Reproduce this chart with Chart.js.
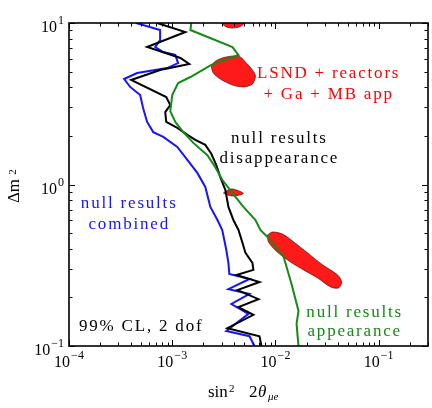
<!DOCTYPE html>
<html>
<head>
<meta charset="utf-8">
<script src="https://cdn.jsdelivr.net/npm/chart.js@4.4.1/dist/chart.umd.min.js"></script>
<style>
  html, body { margin: 0; padding: 0; background: #fff; }
</style>
</head>
<body>
<canvas id="chart" width="432" height="408"></canvas>
<script>
// --- contours: [sin^2 2theta, dm^2] ---
const nullCombined = [
    [4.47e-4, 10], [7.63e-4, 9.05], [7.63e-4, 7.85], [6.84e-4, 7.10], [8.18e-4, 6.61],
    [1.07e-3, 6.34], [1.14e-3, 5.65], [8.93e-4, 5.26], [4.57e-4, 4.90], [3.42e-4, 4.50],
    [3.91e-4, 4.02], [4.89e-4, 3.58], [5.22e-4, 2.98], [5.71e-4, 2.44], [6.55e-4, 2.11],
    [8.18e-4, 1.97], [1.12e-3, 1.71], [1.40e-3, 1.42], [1.75e-3, 1.18], [2.09e-3, 0.966],
    [2.34e-3, 0.726], [2.74e-3, 0.603], [3.05e-3, 0.523], [3.34e-3, 0.393], [3.50e-3, 0.327],
    [3.57e-3, 0.279], [5.60e-3, 0.260], [3.50e-3, 0.225], [5.60e-3, 0.210], [3.74e-3, 0.182],
    [5.47e-3, 0.158], [3.34e-3, 0.124], [5.60e-3, 0.115], [6.25e-3, 0.1]
];

const nullDisapp = [
    [7.14e-4, 10], [1.34e-3, 8.79], [5.71e-4, 7.10], [1.20e-3, 6.07], [1.46e-3, 5.57],
    [7.63e-4, 5.12], [4.00e-4, 4.44], [8.75e-4, 3.48], [9.57e-4, 3.10], [8.55e-4, 2.81],
    [8.75e-4, 2.44], [1.12e-3, 2.24], [1.37e-3, 2.05], [1.67e-3, 1.89], [2.09e-3, 1.76],
    [2.39e-3, 1.55], [2.67e-3, 1.32], [2.92e-3, 1.11], [3.27e-3, 0.925], [3.50e-3, 0.726],
    [3.91e-3, 0.603], [4.38e-3, 0.523], [4.79e-3, 0.435], [5.12e-3, 0.377], [5.98e-3, 0.327],
    [6.11e-3, 0.296], [4.18e-3, 0.275], [7.00e-3, 0.249], [4.28e-3, 0.222], [6.84e-3, 0.195],
    [4.38e-3, 0.174], [6.11e-3, 0.156], [3.42e-3, 0.129], [7.00e-3, 0.115], [7.31e-3, 0.1]
];

const nullApp = [
    [1.53e-3, 10], [1.50e-3, 9.05], [3.83e-3, 7.10], [4.38e-3, 6.34], [2.39e-3, 5.50],
    [1.50e-3, 4.63], [1.14e-3, 4.25], [1.00e-3, 3.58], [9.57e-4, 2.85], [1.07e-3, 2.44],
    [1.28e-3, 2.11], [1.60e-3, 1.81], [2.19e-3, 1.52], [2.61e-3, 1.28], [3.05e-3, 1.07],
    [3.83e-3, 0.885], [4.89e-3, 0.726], [6.40e-3, 0.603], [7.14e-3, 0.523], [8.75e-3, 0.460],
    [1.20e-2, 0.356], [1.43e-2, 0.242], [1.67e-2, 0.165], [1.60e-2, 0.137], [1.67e-2, 0.1]
];

// allowed regions (LSND + reactors + Ga + MB app)
const islandTop = [[2.9e-3, 10.6], [5.2e-3, 10.6], [4.7e-3, 9.6], [3.8e-3, 9.3], [3.2e-3, 9.6]];
const islandHigh = [
    [2.39e-3, 5.34], [2.56e-3, 5.74], [3.05e-3, 6.07], [3.91e-3, 6.25], [4.57e-3, 6.16],
    [5.22e-3, 5.65], [5.98e-3, 5.12], [6.40e-3, 4.70], [5.98e-3, 4.19], [4.89e-3, 4.02],
    [3.83e-3, 4.13], [2.92e-3, 4.50], [2.50e-3, 4.90]
];
const islandMid = [[3.13e-3, 0.885], [3.66e-3, 0.938], [4.18e-3, 0.925], [4.89e-3, 0.88], [4.00e-3, 0.849], [3.42e-3, 0.861]];
const islandLow = [
    [8.36e-3, 0.487], [9.35e-3, 0.508], [1.17e-2, 0.493], [1.50e-2, 0.441], [2.05e-2, 0.377],
    [2.86e-2, 0.318], [4.00e-2, 0.275], [4.38e-2, 0.249], [4.09e-2, 0.229], [3.42e-2, 0.232],
    [2.56e-2, 0.264], [1.87e-2, 0.296], [1.40e-2, 0.331], [1.04e-2, 0.382], [8.55e-3, 0.441]
];

// axis ticks
const xMajor = [1e-4, 1e-3, 1e-2, 1e-1];
const xMajorExp = ['\u22124', '\u22123', '\u22122', '\u22121'];
const yMajor = [0.1, 1, 10];
const yMajorExp = ['\u22121', '0', '1'];

// text labels (lines, anchor in data units, baseline of each line)
const notes = [
    { lines: ['LSND + reactors', '+ Ga + MB app'], color: '#ff0000', x: 3.27e-2, y: [4.56, 3.38] },
    { lines: ['null results', 'disappearance'], color: '#000000', x: 1.09e-2, y: [1.81, 1.36] },
    { lines: ['null results', 'combined'], color: '#1414ff', x: 3.83e-4, y: [0.715, 0.530] },
    { lines: ['null results', 'appearance'], color: '#158a15', x: 5.85e-2, y: [0.151, 0.115] },
    { lines: ['99% CL, 2 dof'], color: '#000000', x: 5.0e-4, y: [0.124] }
];

const SERIF = '"Liberation Serif", "DejaVu Serif", serif';

function toPts(arr) {
    return arr.map(p => ({ x: p[0], y: p[1] }));
}

function curve(data, color) {
    return {
        data: toPts(data), showLine: true, borderColor: color, borderWidth: 2,
        pointRadius: 0, fill: false, tension: 0, order: 0
    };
}

function island(data) {
    const pts = toPts(data);
    pts.push(pts[0]);
    return {
        data: pts, showLine: true, borderColor: 'rgba(70,0,0,0.9)', borderWidth: 0.7,
        backgroundColor: '#ff1a1a', pointRadius: 0, fill: 'shape', tension: 0.3, order: 1
    };
}

// --- frame, inward ticks, labels ---
const framePlugin = {
    id: 'frame',
    afterDatasetsDraw(chart) {
        const { ctx, chartArea: a, scales: { x, y } } = chart;
        ctx.save();
        ctx.strokeStyle = '#000';
        ctx.lineWidth = 1;

        // minor + major ticks on all four sides
        ctx.beginPath();
        xMajor.forEach(d => {
            for (let k = 1; k <= 9; k++) {
                const v = k * d;
                if (v > x.max * 1.0001) break;
                const px = Math.round(x.getPixelForValue(v)) + 0.5;
                const len = k === 1 ? 6 : 3.5;
                ctx.moveTo(px, a.bottom); ctx.lineTo(px, a.bottom - len);
                ctx.moveTo(px, a.top); ctx.lineTo(px, a.top + len);
            }
        });
        yMajor.forEach(d => {
            for (let k = 1; k <= 9; k++) {
                const v = k * d;
                if (v > y.max * 1.0001) break;
                const py = Math.round(y.getPixelForValue(v)) + 0.5;
                const len = k === 1 ? 6 : 3.5;
                ctx.moveTo(a.left, py); ctx.lineTo(a.left + len, py);
                ctx.moveTo(a.right, py); ctx.lineTo(a.right - len, py);
            }
        });
        ctx.stroke();

        ctx.lineWidth = 1.6;
        ctx.strokeRect(a.left, a.top, a.right - a.left, a.bottom - a.top);

        // tick labels 10^n
        ctx.fillStyle = '#000';
        ctx.textBaseline = 'alphabetic';
        ctx.textAlign = 'left';
        xMajor.forEach((v, i) => {
            const cx = x.getPixelForValue(v);
            ctx.font = '16px ' + SERIF;
            const w1 = ctx.measureText('10').width;
            ctx.font = '12px ' + SERIF;
            const w2 = ctx.measureText(xMajorExp[i]).width;
            const x0 = cx - (w1 + w2 + 1) / 2;
            ctx.font = '16px ' + SERIF;
            ctx.fillText('10', x0, a.bottom + 21);
            ctx.font = '12px ' + SERIF;
            ctx.fillText(xMajorExp[i], x0 + w1 + 1, a.bottom + 13);
        });
        yMajor.forEach((v, i) => {
            const cy = y.getPixelForValue(v);
            ctx.font = '12px ' + SERIF;
            const w2 = ctx.measureText(yMajorExp[i]).width;
            ctx.font = '16px ' + SERIF;
            const w1 = ctx.measureText('10').width;
            const right = a.left - 5;
            ctx.fillText('10', right - w2 - 1 - w1, cy + 9);
            ctx.font = '12px ' + SERIF;
            ctx.fillText(yMajorExp[i], right - w2, cy + 1);
        });

        // axis titles
        ctx.font = '17px ' + SERIF;
        ctx.fillText('sin', 208, 397);
        ctx.font = '11px ' + SERIF;
        ctx.fillText('2', 229, 392);
        ctx.font = '17px ' + SERIF;
        ctx.fillText('2', 249, 397);
        ctx.font = 'italic 17px ' + SERIF;
        ctx.fillText('\u03b8', 258, 397);
        ctx.font = 'italic 11px ' + SERIF;
        ctx.fillText('\u03bce', 268, 400);

        ctx.save();
        ctx.translate(19, 191);
        ctx.rotate(-Math.PI / 2);
        ctx.textAlign = 'center';
        ctx.font = '17px ' + SERIF;
        ctx.fillText('\u0394m', 0, 0);
        ctx.font = '11px ' + SERIF;
        ctx.fillText('2', 19, -3);
        ctx.restore();

        // annotations
        ctx.textAlign = 'center';
        ctx.font = '17px ' + SERIF;
        if ('letterSpacing' in ctx) ctx.letterSpacing = '1.8px';
        notes.forEach(n => {
            ctx.fillStyle = n.color;
            const px = x.getPixelForValue(n.x);
            n.lines.forEach((t, j) => ctx.fillText(t, px, y.getPixelForValue(n.y[j])));
        });
        ctx.restore();
    }
};

new Chart(document.getElementById('chart'), {
    type: 'scatter',
    data: {
        datasets: [
            curve(nullApp, '#158a15'),
            curve(nullDisapp, '#000000'),
            curve(nullCombined, '#1414ff'),
            island(islandTop),
            island(islandHigh),
            island(islandMid),
            island(islandLow)
        ]
    },
    options: {
        responsive: false,
        animation: false,
        layout: { padding: { left: 69, top: 23, right: 4, bottom: 62 } },
        plugins: { legend: { display: false }, tooltip: { enabled: false } },
        scales: {
            x: { type: 'logarithmic', min: 1e-4, max: 0.3, display: false },
            y: { type: 'logarithmic', min: 0.1, max: 10, display: false }
        }
    },
    plugins: [framePlugin]
});
</script>
</body>
</html>
